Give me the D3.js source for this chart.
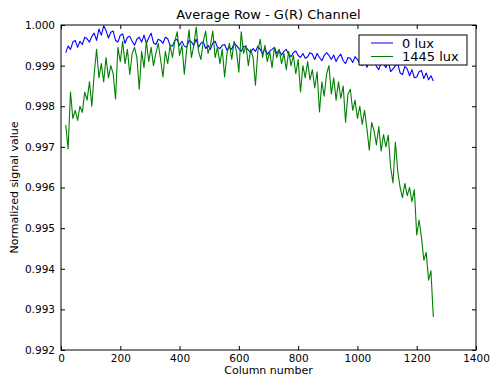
<!DOCTYPE html>
<html>
<head>
<meta charset="utf-8">
<script src="https://cdn.jsdelivr.net/npm/d3@7"></script>
<style>
  html, body { margin: 0; padding: 0; background: #fff; }
  svg { display: block; font-family: "DejaVu Sans", sans-serif; }
</style>
</head>
<body>
<svg id="chart" width="491" height="376"></svg>
<script>
// Column positions sampled every 8 columns
const columns = d3.range(16, 1257, 8);

// Normalized average row, dark frame (0 lux)
const lux0 = [
  0.99932, 0.99948, 0.99940, 0.99958, 0.99962, 0.99945, 0.99960, 0.99952, 0.99970, 0.99966,
  0.99958, 0.99972, 0.99980, 0.99962, 0.99990, 0.99975, 0.99998, 0.99986, 0.99968, 0.99982,
  0.99985, 0.99962, 0.99958, 0.99975, 0.99978, 0.99955, 0.99970, 0.99972, 0.99960, 0.99950,
  0.99965, 0.99970, 0.99958, 0.99975, 0.99955, 0.99968, 0.99980, 0.99956, 0.99952, 0.99965,
  0.99962, 0.99955, 0.99970, 0.99966, 0.99950, 0.99948, 0.99962, 0.99965, 0.99950, 0.99960,
  0.99948, 0.99945, 0.99962, 0.99958, 0.99950, 0.99965, 0.99945, 0.99955, 0.99958, 0.99942,
  0.99950, 0.99940, 0.99955, 0.99960, 0.99945, 0.99942, 0.99950, 0.99952, 0.99938, 0.99945,
  0.99940, 0.99955, 0.99950, 0.99942, 0.99935, 0.99948, 0.99945, 0.99938, 0.99932, 0.99942,
  0.99935, 0.99948, 0.99940, 0.99930, 0.99942, 0.99928, 0.99936, 0.99940, 0.99945, 0.99930,
  0.99938, 0.99926, 0.99935, 0.99940, 0.99928, 0.99922, 0.99932, 0.99936, 0.99925, 0.99920,
  0.99930, 0.99918, 0.99922, 0.99932, 0.99928, 0.99915, 0.99930, 0.99920, 0.99912, 0.99925,
  0.99932, 0.99925, 0.99915, 0.99926, 0.99910, 0.99922, 0.99928, 0.99912, 0.99905, 0.99920,
  0.99918, 0.99908, 0.99922, 0.99915, 0.99905, 0.99900, 0.99912, 0.99896, 0.99910, 0.99902,
  0.99915, 0.99898, 0.99890, 0.99908, 0.99905, 0.99895, 0.99910, 0.99885, 0.99892, 0.99900,
  0.99905, 0.99882, 0.99878, 0.99898, 0.99892, 0.99875, 0.99890, 0.99870, 0.99872, 0.99885,
  0.99888, 0.99868, 0.99882, 0.99865, 0.99875, 0.99862
];

// Normalized average row, illuminated frame (1445 lux)
const lux1445 = [
  0.99754, 0.99695, 0.99835, 0.99770, 0.99790, 0.99765, 0.99800, 0.99785, 0.99835, 0.99815,
  0.99860, 0.99800, 0.99880, 0.99940, 0.99870, 0.99905, 0.99860, 0.99920, 0.99870, 0.99900,
  0.99880, 0.99818, 0.99945, 0.99910, 0.99960, 0.99905, 0.99940, 0.99878, 0.99930, 0.99945,
  0.99920, 0.99842, 0.99935, 0.99895, 0.99960, 0.99910, 0.99945, 0.99900, 0.99930, 0.99955,
  0.99915, 0.99872, 0.99935, 0.99905, 0.99950, 0.99920, 0.99960, 0.99983, 0.99925, 0.99950,
  0.99879, 0.99940, 0.99988, 0.99920, 0.99950, 0.99995, 0.99935, 0.99915, 0.99960, 0.99985,
  0.99930, 0.99950, 0.99985, 0.99920, 0.99945, 0.99905, 0.99940, 0.99872, 0.99930, 0.99955,
  0.99915, 0.99960, 0.99935, 0.99884, 0.99983, 0.99930, 0.99950, 0.99900, 0.99940, 0.99920,
  0.99852, 0.99935, 0.99965, 0.99920, 0.99950, 0.99910, 0.99935, 0.99895, 0.99945, 0.99920,
  0.99940, 0.99905, 0.99930, 0.99890, 0.99935, 0.99900, 0.99925, 0.99880, 0.99915, 0.99835,
  0.99900, 0.99870, 0.99910, 0.99865, 0.99890, 0.99845, 0.99885, 0.99786, 0.99860, 0.99825,
  0.99880, 0.99900, 0.99830, 0.99870, 0.99815, 0.99860, 0.99820, 0.99850, 0.99761, 0.99830,
  0.99842, 0.99790, 0.99815, 0.99770, 0.99800, 0.99755, 0.99790, 0.99745, 0.99692, 0.99760,
  0.99740, 0.99705, 0.99750, 0.99690, 0.99730, 0.99700, 0.99729, 0.99650, 0.99611, 0.99712,
  0.99640, 0.99600, 0.99575, 0.99610, 0.99580, 0.99600, 0.99565, 0.99595, 0.99483, 0.99520,
  0.99478, 0.99421, 0.99440, 0.99372, 0.99395, 0.99281
];

const seriesNames = ["0 lux", "1445 lux"];
const seriesColors = ["#0000ff", "#008000"];
const xTicks = [0, 200, 400, 600, 800, 1000, 1200, 1400];
const yTicks = [0.992, 0.993, 0.994, 0.995, 0.996, 0.997, 0.998, 0.999, 1.000];

const svg = d3.select("#chart");
const plotL = 61, plotR = 476, plotT = 25, plotB = 350;

const x = d3.scaleLinear().domain([0, 1400]).range([plotL, plotR]);
const y = d3.scaleLinear().domain([0.992, 1.000]).range([plotB, plotT]);

svg.append("defs").append("clipPath").attr("id", "plot-clip")
  .append("rect").attr("x", plotL).attr("y", plotT)
  .attr("width", plotR - plotL).attr("height", plotB - plotT);

// Data lines
const line = d3.line().x((d, i) => x(columns[i])).y(d => y(d));
const plot = svg.append("g").attr("clip-path", "url(#plot-clip)");
[lux0, lux1445].forEach((vals, k) => {
  plot.append("path").datum(vals)
    .attr("fill", "none")
    .attr("stroke", seriesColors[k])
    .attr("stroke-width", 1.1)
    .attr("stroke-linejoin", "round")
    .attr("d", line);
});

// Axes with inward ticks on all four sides
const fmtX = d3.format("d");
const fmtY = d3.format(".3f");
const styleAxis = g => {
  g.select(".domain").remove();
  g.selectAll(".tick line").attr("stroke", "#000").attr("stroke-width", 1);
  g.selectAll("text").attr("fill", "#000").attr("font-size", "10.5px")
    .attr("font-family", "DejaVu Sans, sans-serif");
};

svg.append("g").attr("transform", `translate(0,${plotB})`)
  .call(d3.axisBottom(x).tickValues(xTicks).tickFormat(fmtX).tickSizeInner(-4).tickSizeOuter(0).tickPadding(5))
  .call(styleAxis);
svg.append("g").attr("transform", `translate(0,${plotT})`)
  .call(d3.axisTop(x).tickValues(xTicks).tickSizeInner(-4).tickSizeOuter(0).tickFormat(""))
  .call(styleAxis);
svg.append("g").attr("transform", `translate(${plotL},0)`)
  .call(d3.axisLeft(y).tickValues(yTicks).tickFormat(fmtY).tickSizeInner(-4).tickSizeOuter(0).tickPadding(6))
  .call(styleAxis);
svg.append("g").attr("transform", `translate(${plotR},0)`)
  .call(d3.axisRight(y).tickValues(yTicks).tickSizeInner(-4).tickSizeOuter(0).tickFormat(""))
  .call(styleAxis);

// Frame
svg.append("rect")
  .attr("x", plotL).attr("y", plotT)
  .attr("width", plotR - plotL).attr("height", plotB - plotT)
  .attr("fill", "none").attr("stroke", "#000").attr("stroke-width", 1);

// Title and axis labels
svg.append("text")
  .attr("x", (plotL + plotR) / 2).attr("y", 19)
  .attr("text-anchor", "middle").attr("font-size", "13px")
  .text("Average Row - G(R) Channel");
svg.append("text")
  .attr("x", (plotL + plotR) / 2).attr("y", 374)
  .attr("text-anchor", "middle").attr("font-size", "11px")
  .text("Column number");
svg.append("text")
  .attr("transform", `translate(18,${(plotT + plotB) / 2}) rotate(-90)`)
  .attr("text-anchor", "middle").attr("font-size", "11px")
  .text("Normalized signal value");

// Legend
const lg = svg.append("g").attr("transform", "translate(359,35)");
lg.append("rect").attr("width", 108).attr("height", 30)
  .attr("fill", "#fff").attr("stroke", "#000").attr("stroke-width", 1);
seriesNames.forEach((name, k) => {
  const yy = 8 + k * 13.5;
  lg.append("line").attr("x1", 12).attr("x2", 34).attr("y1", yy).attr("y2", yy)
    .attr("stroke", seriesColors[k]).attr("stroke-width", 1);
  lg.append("text").attr("x", 43).attr("y", yy).attr("dy", "0.36em")
    .attr("font-size", "13px").text(name);
});
</script>
</body>
</html>
